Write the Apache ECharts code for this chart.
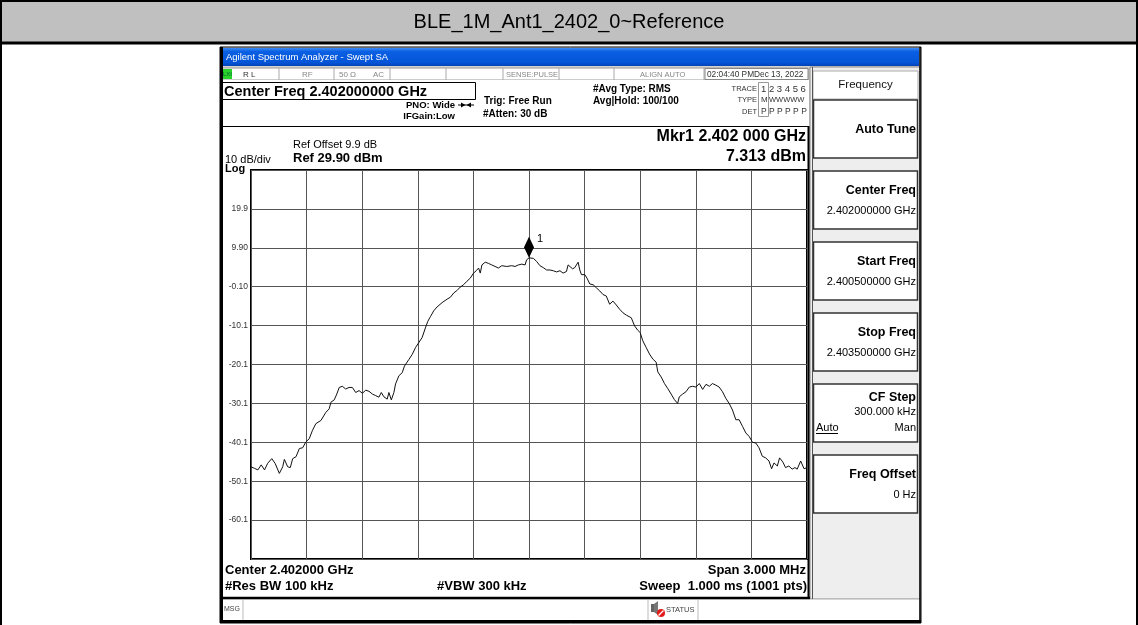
<!DOCTYPE html>
<html><head><meta charset="utf-8">
<script src="https://cdn.jsdelivr.net/npm/echarts@6/dist/echarts.min.js"></script>
<style>html,body{margin:0;padding:0;background:#fff}#c{width:1138px;height:625px}</style>
</head><body><div id="c"></div>
<script>
// ---------- DATA ----------
const pageTitle = 'BLE_1M_Ant1_2402_0~Reference';
// frequency offset from centre 2.402 GHz (kHz)
const freqOffsetKHz = [-1500,-1481,-1463,-1445,-1427,-1410,-1388,-1370,-1347,-1329,-1320,-1302,-1288,-1275,-1257,-1239,-1221,-1204,-1186,-1168,-1150,-1123,-1096,-1078,-1069,-1051,-1037,-1024,-1007,-989,-971,-953,-935,-917,-899,-881,-863,-845,-827,-810,-797,-783,-765,-756,-743,-729,-720,-702,-684,-672,-648,-630,-613,-595,-577,-559,-546,-532,-514,-496,-469,-442,-424,-406,-389,-371,-353,-335,-317,-299,-285,-272,-263,-254,-236,-219,-201,-183,-165,-147,-120,-93,-75,-57,-39,-21,-13,0,23,41,59,77,95,113,131,149,167,184,202,211,220,235,247,256,265,274,283,301,313,328,346,364,382,399,417,435,453,471,489,507,525,552,570,587,600,614,632,650,668,686,695,713,731,749,767,784,802,811,829,847,865,883,901,919,937,955,973,990,1008,1026,1044,1062,1080,1098,1116,1134,1152,1170,1188,1206,1224,1241,1259,1277,1295,1309,1322,1340,1352,1370,1384,1402,1420,1435,1447,1466,1474,1484,1500];
// trace level (dBm)
const levelDbm = [-46.4,-46.8,-47.2,-45.9,-47.2,-45.5,-44.3,-45.5,-48.1,-46.4,-44.5,-46.4,-46.6,-44.3,-43.8,-41.7,-41.5,-40.0,-39.2,-37.0,-35.3,-34.5,-32.4,-31.5,-29.8,-29.2,-27.7,-26.0,-25.7,-26.4,-26.0,-26.0,-27.3,-26.8,-27.5,-26.7,-27.0,-27.7,-28.1,-28.5,-27.3,-28.4,-29.0,-27.3,-29.2,-27.3,-25.1,-23.0,-22.2,-20.5,-18.8,-17.5,-15.8,-14.5,-13.2,-10.7,-9.0,-7.8,-6.3,-5.3,-4.2,-3.3,-2.8,-1.7,-1.1,-0.2,0.4,1.3,2.1,3.4,4.0,4.7,3.4,5.5,6.2,5.9,5.5,5.1,4.7,5.3,5.1,5.3,5.1,5.5,5.7,5.5,6.8,7.313,7.2,6.4,5.3,4.8,4.2,4.2,4.0,3.7,4.0,3.4,3.8,5.5,5.7,4.5,4.8,5.5,6.2,4.2,3.0,3.0,2.1,0.6,0.4,-0.4,-1.2,-2.1,-2.5,-4.6,-3.8,-4.8,-5.9,-6.8,-7.4,-8.1,-10.2,-11.3,-11.9,-14.0,-15.7,-17.4,-18.7,-19.5,-22.0,-23.3,-25.0,-26.3,-27.7,-29.1,-30.1,-28.4,-27.7,-27.1,-25.9,-25.7,-25.9,-25.0,-26.5,-25.2,-25.7,-25.0,-25.4,-25.9,-27.1,-28.8,-30.1,-31.8,-34.3,-34.3,-36.0,-37.7,-38.6,-40.1,-40.3,-41.5,-43.7,-44.1,-44.9,-46.9,-45.4,-46.2,-44.1,-45.2,-46.6,-46.2,-47.0,-46.6,-47.0,-44.9,-44.5,-46.9,-46.6];
const markerFreqKHz = 0;
const markerLevelDbm = 7.313;
const markerName = '1';
const refLevelDbm = 29.9;
const dbPerDiv = 10;
const yDivisions = 10;
const spanKHz = 3000;
const xDivisions = 10;
// y tick labels from bottom division (index 0) to top (index 10)
const yTickLabels = ['', '-60.1', '-50.1', '-40.1', '-30.1', '-20.1', '-10.1', '-0.10', '9.90', '19.9', ''];

const softkeyTitles = ['Auto Tune', 'Center Freq', 'Start Freq', 'Stop Freq', 'CF Step', 'Freq Offset'];
const softkeyValues = ['', '2.402000000 GHz', '2.400500000 GHz', '2.403500000 GHz', '300.000 kHz', '0 Hz'];

// ---------- LAYOUT / DRAW ----------
const F = '"Liberation Sans", Arial, Helvetica, sans-serif';
const g = [];
function rect(x, y, w, h, fill, stroke, lw, z) {
  g.push({type: 'rect', silent: true, z: z == null ? -20 : z, shape: {x: x, y: y, width: w, height: h},
    style: {fill: fill || 'none', stroke: stroke || null, lineWidth: lw || 0}});
}
function line(x1, y1, x2, y2, stroke, lw, z) {
  g.push({type: 'line', silent: true, z: z == null ? -10 : z, shape: {x1: x1, y1: y1, x2: x2, y2: y2},
    style: {stroke: stroke, lineWidth: lw}});
}
function poly(points, fill, z) {
  g.push({type: 'polygon', silent: true, z: z == null ? -10 : z, shape: {points: points}, style: {fill: fill}});
}
function text(t, x, y, size, o) {
  o = o || {};
  g.push({type: 'text', silent: true, z: 50, x: x, y: y,
    style: {text: t, font: (o.w || 'normal') + ' ' + size + 'px ' + F, fill: o.c || '#000',
      align: o.a || 'left', verticalAlign: 'middle'}});
}

// page table
rect(0, 0, 1138, 43, '#c0c0c0', null, 0, -40);
line(0, 1, 1138, 1, '#000', 2, -5);
line(1, 0, 1, 625, '#000', 2, -5);
line(1137, 0, 1137, 625, '#000', 2, -5);
line(0, 43, 1138, 43, '#000', 3, -5);
text(pageTitle, 569, 22, 20, {a: 'center'});

// screenshot frame
rect(220, 47, 701, 576, '#d6d3ce', '#000', 1, -38);
g.push({type: 'rect', silent: true, z: -36, shape: {x: 222, y: 48, width: 697, height: 18},
  style: {fill: new echarts.graphic.LinearGradient(0, 0, 0, 1, [
    {offset: 0, color: '#3d8af7'}, {offset: 0.2, color: '#0a5fe2'},
    {offset: 0.8, color: '#0455d8'}, {offset: 1, color: '#0343b8'}])}});
text('Agilent Spectrum Analyzer - Swept SA', 226, 57.5, 9.5, {c: '#fff'});

// status row
rect(222, 68, 586, 12, '#fff', '#9a9a9a', 1, -34);
[279, 334, 390, 446, 503, 559, 614, 704].forEach(function (x) { line(x, 68, x, 80, '#aaa', 1, -30); });
rect(223, 69, 9, 10, '#2bd42b', null, 0, -30);
text('LXI', 227.5, 74.5, 6, {a: 'center', c: '#063'});
text('R L', 243, 74.5, 8, {c: '#333'});
text('RF', 302, 74.5, 8, {c: '#888'});
text('50 \u03A9', 339, 74.5, 8, {c: '#888'});
text('AC', 373, 74.5, 8, {c: '#888'});
text('SENSE:PULSE', 506, 74.5, 7.5, {c: '#888'});
text('ALIGN AUTO', 640, 74.5, 7.5, {c: '#888'});
rect(705, 68.5, 103, 11, '#fff', '#888', 1, -30);
text('02:04:40 PMDec 13, 2022', 707, 74.5, 8.3, {c: '#333'});

// main display area
rect(222, 80, 587, 518, '#fff', null, 0, -34);
line(221.5, 47, 221.5, 623, '#000', 3, -5);
rect(222.5, 82.5, 253, 17, '#fff', '#000', 1, -30);
text('Center Freq 2.402000000 GHz', 224, 91.5, 14.5, {w: 'bold'});
text('PNO: Wide', 455, 105, 9.5, {w: 'bold', a: 'right'});
line(458, 105, 474, 105, '#000', 1, -5);
poly([[461, 102.5], [465.5, 105], [461, 107.5]], '#000', -5);
poly([[471, 102.5], [466.5, 105], [471, 107.5]], '#000', -5);
text('IFGain:Low', 455, 116.7, 9.5, {w: 'bold', a: 'right'});
text('Trig: Free Run', 484, 101.7, 10, {w: 'bold'});
text('#Atten: 30 dB', 483, 114, 10, {w: 'bold'});
text('#Avg Type: RMS', 593, 89, 10, {w: 'bold'});
text('Avg|Hold: 100/100', 593, 101.7, 10, {w: 'bold'});
text('TRACE', 757, 89, 7.5, {a: 'right', c: '#333'});
text('1 2 3 4 5 6', 761, 89, 9.5, {c: '#333'});
text('TYPE', 757, 100, 7.5, {a: 'right', c: '#333'});
text('M', 761, 100, 8, {c: '#333'});
text('WWWWW', 769, 100, 7.5, {c: '#333'});
text('DET', 757, 111.5, 7.5, {a: 'right', c: '#333'});
text('P P P P P P', 761, 111.5, 8.5, {c: '#333'});
rect(758.5, 82.5, 10, 34, null, '#999', 1, -5);
line(222, 126.5, 808, 126.5, '#000', 1, -5);

text('Ref Offset 9.9 dB', 293, 145, 11);
text('Ref 29.90 dBm', 293, 158, 13, {w: 'bold'});
text('10 dB/div', 225, 159.5, 11);
text('Log', 225, 168.5, 11, {w: 'bold'});
text('Mkr1 2.402 000 GHz', 806, 137, 16, {w: 'bold', a: 'right'});
text('7.313 dBm', 806, 156.5, 16, {w: 'bold', a: 'right'});

text('Center 2.402000 GHz', 225, 570, 13, {w: 'bold'});
text('#Res BW 100 kHz', 225, 586.5, 13, {w: 'bold'});
text('#VBW 300 kHz', 437, 586.5, 13, {w: 'bold'});
text('Span 3.000 MHz', 806, 570, 13, {w: 'bold', a: 'right'});
text('Sweep  1.000 ms (1001 pts)', 807, 586.5, 13, {w: 'bold', a: 'right'});
line(808.5, 126, 808.5, 599, '#000', 2, -5);
line(221, 598, 810, 598, '#000', 2.5, -5);

// message bar
rect(222, 599.5, 697, 21, '#fff', null, 0, -30);
line(243, 600, 243, 620, '#bbb', 1, -8);
line(648, 600, 648, 620, '#bbb', 1, -8);
line(698, 600, 698, 620, '#bbb', 1, -8);
text('MSG', 224, 609.5, 7, {c: '#444'});
rect(651, 604, 3, 8, '#666', null, 0, -6);
poly([[654, 604], [658, 601], [658, 615], [654, 612]], '#777', -6);
g.push({type: 'circle', silent: true, z: -5, shape: {cx: 661, cy: 613, r: 4}, style: {fill: '#e31b1b'}});
line(658.5, 615.5, 663.5, 610.5, '#fff', 1.2, -4);
text('STATUS', 666, 609.5, 7.5, {c: '#444'});
line(220, 621.5, 921, 621.5, '#000', 3, -5);
line(920, 47, 920, 623, '#000', 1.5, -5);

// softkey panel
rect(810, 67, 110, 532, '#eeeeee', '#888', 1, -32);
line(812.5, 67, 812.5, 599, '#555', 1, -8);
rect(813, 71, 105, 28, '#fff', '#aaa', 1, -28);
text('Frequency', 865.5, 84.5, 11.5, {a: 'center', c: '#111'});
const keyTop = [100, 171, 242, 313, 384, 455];
softkeyTitles.forEach(function (t, i) {
  const y = keyTop[i];
  rect(813.5, y, 104, 58, '#fff', '#333', 1.5, -28);
  const hasVal = softkeyValues[i] !== '';
  if (t === 'CF Step') {
    text(t, 916, y + 13.5, 12.5, {w: 'bold', a: 'right'});
    text(softkeyValues[i], 916, y + 28, 11, {a: 'right'});
    text('Auto', 816, y + 43.5, 11);
    line(816, y + 49.5, 838, y + 49.5, '#000', 1, -5);
    text('Man', 916, y + 43.5, 11, {a: 'right'});
  } else if (hasVal) {
    text(t, 916, y + 19.5, 12.5, {w: 'bold', a: 'right'});
    text(softkeyValues[i], 916, y + 39.5, 11, {a: 'right'});
  } else {
    text(t, 916, y + 30, 12.5, {w: 'bold', a: 'right'});
  }
});

const chart = echarts.init(document.getElementById('c'), null, {renderer: 'canvas'});
chart.setOption({
  animation: false,
  backgroundColor: '#fff',
  graphic: {elements: g},
  grid: {left: 251, top: 170, width: 556, height: 389, show: true, borderColor: '#000', borderWidth: 2,
    backgroundColor: 'transparent', containLabel: false, outerBoundsMode: 'none'},
  xAxis: {type: 'value', min: -spanKHz / 2, max: spanKHz / 2, interval: spanKHz / xDivisions,
    axisLine: {show: false}, axisTick: {show: false}, axisLabel: {show: false},
    splitLine: {show: true, lineStyle: {color: '#555', width: 1}}},
  yAxis: [
    {type: 'value', position: 'left', min: 0, max: yDivisions, interval: 1,
      axisLine: {show: false}, axisTick: {show: false},
      axisLabel: {color: '#333', fontSize: 8.5, fontFamily: F, margin: 3,
        formatter: function (v) { return yTickLabels[Math.round(v)] || ''; }},
      splitLine: {show: true, lineStyle: {color: '#555', width: 1}}},
    {type: 'value', show: false, position: 'left',
      min: refLevelDbm - dbPerDiv * yDivisions, max: refLevelDbm}
  ],
  series: [{
    type: 'line', yAxisIndex: 1, showSymbol: false, symbol: 'none', silent: true,
    lineStyle: {color: '#111', width: 1},
    data: freqOffsetKHz.map(function (f, i) { return [f, levelDbm[i]]; }),
    markPoint: {
      silent: true, symbol: 'diamond', symbolSize: [10, 21], symbolOffset: [0, '-50%'],
      itemStyle: {color: '#000'},
      label: {show: true, position: 'right', distance: 3, offset: [0, -8], color: '#000', fontSize: 11, fontFamily: F,
        formatter: function () { return markerName; }},
      data: [{coord: [markerFreqKHz, markerLevelDbm]}]
    }
  }]
});
</script></body></html>
